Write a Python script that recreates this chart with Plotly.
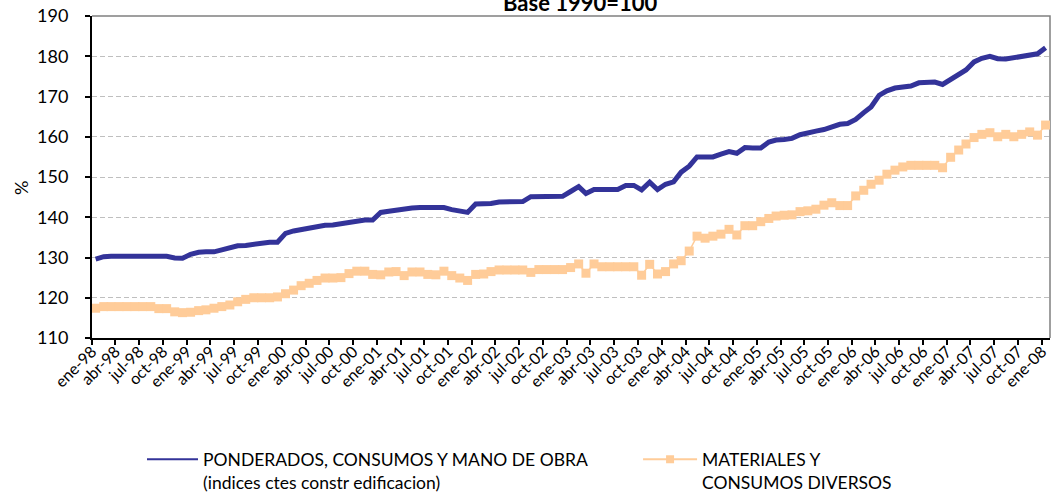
import pandas as pd
import plotly.graph_objects as go

# ---- data (monthly, ene-98 .. ene-08) ----
start_month = "1998-01-01"
n_months = 121

ponderados = [
    129.6, 130.2, 130.3, 130.3, 130.3, 130.3, 130.3, 130.3, 130.3, 130.3,
    129.9, 129.8, 130.8, 131.3, 131.4, 131.4, 131.9, 132.4, 132.9, 133.0,
    133.3, 133.5, 133.8, 133.8, 136.0, 136.6, 137.0, 137.4, 137.8, 138.0,
    138.1, 138.4, 138.9, 139.3, 139.3, 139.3, 141.2, 141.5, 141.8, 142.1,
    142.3, 142.4, 142.4, 142.4, 142.4, 141.9, 141.6, 141.2, 143.3, 143.3,
    143.4, 143.8, 143.9, 143.9, 143.9, 145.1, 145.2, 145.2, 145.2, 145.2,
    146.4, 147.6, 145.9, 146.9, 146.9, 146.9, 146.9, 147.9, 147.9, 146.8,
    148.7, 146.9, 148.2, 148.8, 151.2, 152.7, 155.0, 155.0, 155.0, 155.7,
    156.3, 155.9, 157.3, 157.2, 157.2, 158.7, 159.2, 159.3, 159.6, 160.5,
    161.1, 161.4, 161.8, 162.4, 163.1, 163.3, 164.3, 166.0, 167.4, 170.3,
    171.4, 172.1, 172.2, 172.6, 173.4, 173.6, 173.6, 173.0, 174.3, 175.5,
    176.6, 178.6, 179.5, 180.0, 179.4, 179.3, 179.7, 180.1, 180.3, 180.6,
    182.1,
]

materiales = [
    117.4, 117.8, 117.8, 117.8, 117.8, 117.8, 117.8, 117.8, 117.3, 117.3,
    116.5, 116.3, 116.4, 116.8, 117.0, 117.4, 117.8, 118.2, 119.0, 119.6,
    120.0, 120.0, 120.0, 120.2, 121.0, 121.9, 123.0, 123.6, 124.3, 124.9,
    124.9, 125.0, 126.0, 126.6, 126.6, 125.8, 125.7, 126.4, 126.5, 125.5,
    126.4, 126.4, 125.8, 125.7, 126.6, 125.5, 124.9, 124.3, 125.8, 125.9,
    126.5, 126.9, 126.9, 126.9, 126.9, 126.3, 127.0, 127.0, 127.0, 127.0,
    127.5, 128.4, 126.1, 128.4, 127.7, 127.7, 127.7, 127.7, 127.7, 125.6,
    128.3, 125.9, 126.5, 128.4, 129.2, 131.6, 135.3, 134.8, 135.3, 135.8,
    137.0, 135.6, 137.9, 137.9, 138.9, 139.7, 140.3, 140.5, 140.6, 141.4,
    141.6, 142.0, 143.0, 143.6, 142.9, 142.9, 145.3, 146.7, 148.2, 149.2,
    150.7, 151.7, 152.5, 152.9, 152.9, 152.9, 152.9, 152.3, 154.9, 156.7,
    158.2, 159.8, 160.6, 161.0, 160.0, 160.6, 160.0, 160.6, 161.2, 160.4,
    162.9,
]

tick_labels = []
for yy in ["98", "99", "00", "01", "02", "03", "04", "05", "06", "07"]:
    for mm in ["ene", "abr", "jul", "oct"]:
        tick_labels.append(f"{mm}-{yy}")
tick_labels.append("ene-08")

y_ticks = [110, 120, 130, 140, 150, 160, 170, 180, 190]

name_1 = "PONDERADOS, CONSUMOS Y MANO DE OBRA<br>(indices ctes constr edificacion)"
name_2 = "MATERIALES Y<br>CONSUMOS DIVERSOS"
title_text = "Base 1990=100"
y_title = "%"

# ---- build ----
months = pd.date_range(start_month, periods=n_months, freq="MS")
x_dates = months + pd.Timedelta(days=14)   # monthly values plotted mid-month
tick_dates = pd.date_range(start_month, periods=len(tick_labels), freq="3MS")

BLUE = "#333399"
ORANGE = "#FFCC99"
FONT = "Lato"

fig = go.Figure()
fig.add_trace(go.Scatter(x=x_dates, y=ponderados, mode="lines",
                         line=dict(color=BLUE, width=5), showlegend=False,
                         hoverinfo="skip"))
fig.add_trace(go.Scatter(x=x_dates, y=materiales, mode="lines+markers",
                         line=dict(color=ORANGE, width=1.5),
                         marker=dict(symbol="square", size=9, color=ORANGE),
                         showlegend=False, hoverinfo="skip"))
# legend entries
fig.add_trace(go.Scatter(x=[None], y=[None], mode="lines", name=name_1,
                         line=dict(color=BLUE, width=2), legend="legend"))
fig.add_trace(go.Scatter(x=[None], y=[None], mode="lines+markers", name=name_2,
                         line=dict(color=ORANGE, width=2),
                         marker=dict(symbol="square", size=8, color=ORANGE),
                         legend="legend2"))

fig.update_layout(
    width=1052, height=496,
    margin=dict(l=92, r=2, t=16, b=158, autoexpand=False),
    paper_bgcolor="white", plot_bgcolor="white",
    font=dict(family=FONT, size=18, color="black"),
    xaxis=dict(
        type="date", range=["1998-01-01", "2008-02-01"],
        tickmode="array", tickvals=tick_dates, ticktext=tick_labels,
        tickangle=-45, tickfont=dict(size=16), ticklabelstandoff=-9,
        ticklabeloverflow="allow",
        showline=True, linecolor="black", linewidth=2,
        ticks="outside", ticklen=5, tickwidth=1.5, tickcolor="black",
        showgrid=False, zeroline=False,
    ),
    yaxis=dict(
        range=[110, 190], tickmode="array", tickvals=y_ticks,
        tickfont=dict(size=18), ticklabelstandoff=13,
        ticklabeloverflow="allow",
        showline=True, linecolor="black", linewidth=2,
        ticks="outside", ticklen=5, tickwidth=1.5, tickcolor="black",
        showgrid=True, gridcolor="#BFBFBF", gridwidth=1, griddash="5px,3px",
        zeroline=False,
    ),
    legend=dict(orientation="h", x=0.0522, xanchor="left", y=-0.321, yanchor="top",
                valign="top", itemwidth=51, font=dict(size=17.5),
                bgcolor="rgba(0,0,0,0)"),
    legend2=dict(orientation="h", x=0.570, xanchor="left", y=-0.321, yanchor="top",
                 valign="top", itemwidth=54, font=dict(size=17.5),
                 bgcolor="rgba(0,0,0,0)"),
    shapes=[dict(type="path", xref="paper", yref="paper",
                 path="M 0,1 L 1,1 L 1,0", line=dict(color="#808080", width=1.5),
                 layer="below")],
    annotations=[
        dict(text="<b>" + title_text + "</b>", xref="paper", yref="paper",
             x=0.51, y=1, xanchor="center", yanchor="middle", yshift=14,
             showarrow=False, font=dict(size=22)),
        dict(text=y_title, xref="paper", yref="paper", x=0, y=0.5,
             xanchor="center", yanchor="middle", xshift=-71, yshift=-11,
             textangle=-90, showarrow=False, font=dict(size=18)),
    ],
)

# remove the default 8px page margin so the figure fills the window
fig.write_html("out.html", config={"displayModeBar": False},
               post_script="document.body.style.margin='0px';")
